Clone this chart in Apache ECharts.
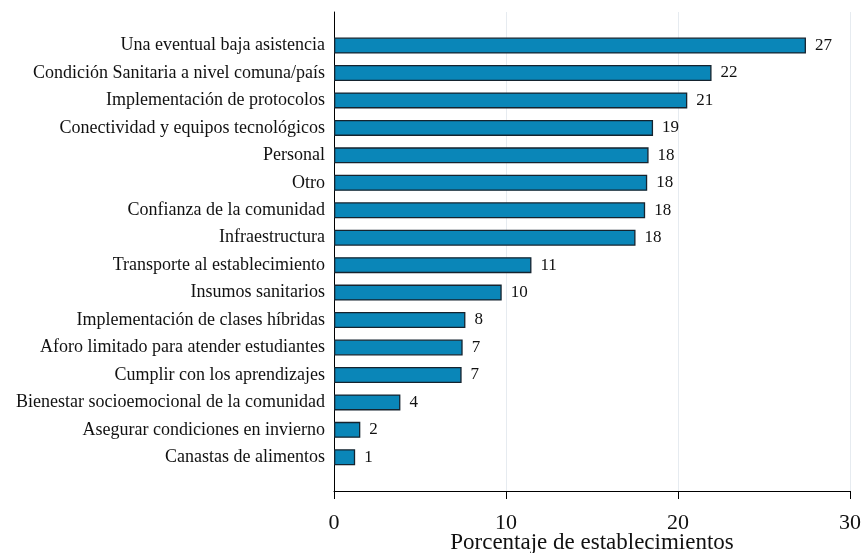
<!DOCTYPE html>
<html>
<head>
<meta charset="utf-8">
<script src="https://cdn.jsdelivr.net/npm/echarts@6/dist/echarts.min.js"></script>
<style>
html,body{margin:0;padding:0;background:#fff;}
#main{width:863px;height:553px;}
</style>
</head>
<body>
<div id="main"></div>
<script>
const categories = [
  "Una eventual baja asistencia",
  "Condición Sanitaria a nivel comuna/país",
  "Implementación de protocolos",
  "Conectividad y equipos tecnológicos",
  "Personal",
  "Otro",
  "Confianza de la comunidad",
  "Infraestructura",
  "Transporte al establecimiento",
  "Insumos sanitarios",
  "Implementación de clases híbridas",
  "Aforo limitado para atender estudiantes",
  "Cumplir con los aprendizajes",
  "Bienestar socioemocional de la comunidad",
  "Asegurar condiciones en invierno",
  "Canastas de alimentos"
];
const values = [27.44, 21.95, 20.54, 18.55, 18.29, 18.21, 18.09, 17.53, 11.48, 9.75, 7.64, 7.48, 7.42, 3.86, 1.53, 1.23];
const xTicks = [0, 10, 20, 30];
const axisTitle = "Porcentaje de establecimientos";

const serif = "'Liberation Serif', 'Times New Roman', serif";
const chart = echarts.init(document.getElementById('main'), null, {renderer: 'canvas'});
chart.setOption({
  animation: false,
  backgroundColor: '#ffffff',
  grid: [
    {left: 334, right: 13, top: 31.8, bottom: 82, containLabel: false, outerBoundsMode: 'none'},
    {left: 334, right: 13, top: 12, bottom: 62, containLabel: false, outerBoundsMode: 'none'}
  ],
  xAxis: [
    {gridIndex: 0, type: 'value', min: 0, max: 30, interval: 10, show: false},
    {gridIndex: 1, type: 'value', min: xTicks[0], max: xTicks[xTicks.length - 1], interval: 10,
     axisLine: {show: true, lineStyle: {color: '#000', width: 1}},
     axisTick: {show: true, length: 8, lineStyle: {color: '#000'}},
     axisLabel: {show: true, color: '#111', fontFamily: serif, fontSize: 22, margin: 21},
     splitLine: {show: true, lineStyle: {color: '#e6ebf0', width: 1}},
     name: axisTitle, nameLocation: 'middle', nameGap: 40, nameMoveOverlap: false,
     nameTextStyle: {color: '#111', fontFamily: serif, fontSize: 23}
    }
  ],
  yAxis: [
    {gridIndex: 0, type: 'category', data: categories, inverse: true,
     axisLine: {show: false}, axisTick: {show: false},
     axisLabel: {color: '#111', fontFamily: serif, fontSize: 18, margin: 9},
     splitLine: {show: false}
    },
    {gridIndex: 1, type: 'value', min: 0, max: 1,
     axisLine: {show: true, lineStyle: {color: '#000', width: 1}},
     axisTick: {show: false}, axisLabel: {show: false}, splitLine: {show: false}
    }
  ],
  series: [{
    type: 'bar',
    xAxisIndex: 0, yAxisIndex: 0,
    data: values,
    barWidth: 16,
    itemStyle: {color: '#0a86b8', borderColor: '#15232e', borderWidth: 1.3},
    label: {show: true, position: 'right', distance: 9, color: '#111', fontFamily: serif, fontSize: 17,
      formatter: p => String(Math.round(p.value))}
  }]
});
</script>
</body>
</html>
